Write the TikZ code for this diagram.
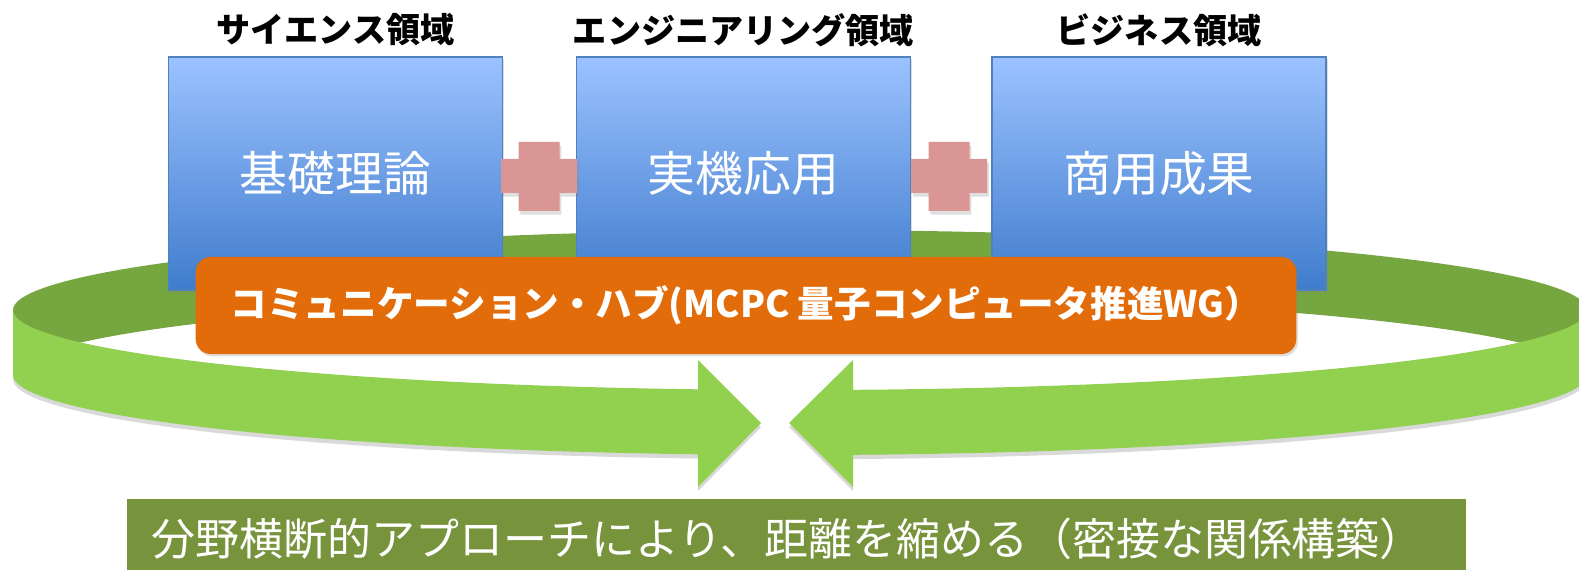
\documentclass[tikz,border=0pt]{standalone}
\usepackage{fontspec}
\setmainfont{Noto Sans CJK JP}
\usepackage{tikz}
\usetikzlibrary{shadows}
\definecolor{backring}{RGB}{118, 166, 64}
\definecolor{frontring}{RGB}{146, 208, 80}
\definecolor{hub}{RGB}{227, 108, 10}
\definecolor{cross}{RGB}{217, 150, 148}
\definecolor{band}{RGB}{119, 147, 60}
\definecolor{boxtop}{RGB}{155, 194, 255}
\definecolor{boxbot}{RGB}{64, 124, 205}
\definecolor{boxline}{RGB}{79, 129, 189}

\begin{document}
\begin{tikzpicture}[x=0.01cm, y=-0.01cm,
  field/.style={draw=boxline, top color=boxtop, bottom color=boxbot,
    minimum width=3.34cm, minimum height=2.33cm, text=white,
    font=\fontsize{13.6}{15}\selectfont,
    drop shadow={opacity=0.25, shadow xshift=0.5pt, shadow yshift=-0.7pt}},
  fieldname/.style={font=\fontsize{9.7}{11}\selectfont\bfseries},
  hubbox/.style={fill=hub, rounded corners=0.15cm, minimum width=11cm,
    minimum height=0.97cm, text=white, font=\fontsize{10.4}{12}\selectfont\bfseries,
    drop shadow={opacity=0.25, shadow xshift=0.5pt, shadow yshift=-0.7pt}},
  goal/.style={fill=band, anchor=north west, minimum width=13.38cm,
    minimum height=0.8cm, inner xsep=0.25cm, text width=12.88cm, align=left,
    text=white, font=\fontsize{12.5}{14}\selectfont},
  ring/.style={drop shadow={opacity=0.3, shadow xshift=0pt, shadow yshift=-1.2pt}}]

  \useasboundingbox (0, 0) rectangle (1579, 570);
  \clip (0, 0) rectangle (1579, 570);

  % Ring
  \pgfmathsetmacro{\rcx}{800}
  \pgfmathsetmacro{\rcy}{310}
  \pgfmathsetmacro{\rx}{787}
  \pgfmathsetmacro{\ry}{80}
  \pgfmathsetmacro{\rh}{65}

  \fill [backring] plot [domain=180:360, samples=90] ({\rcx + \rx*cos(\x)}, {\rcy + \ry*sin(\x)})
    -- plot [domain=360:180, samples=90] ({\rcx + \rx*cos(\x)}, {\rcy + \rh + \ry*sin(\x)}) -- cycle;

  % Fields
  \node [field] (sci) at (335.5, 173.5) {基礎理論};
  \node [field] (eng) at (743.5, 173.5) {実機応用};
  \node [field] (biz) at (1159, 173.5) {商用成果};

  \node [fieldname] (scilabel) at (335.5, 30) {サイエンス領域};
  \node [fieldname] (englabel) at (743.5, 30) {エンジニアリング領域};
  \node [fieldname] (bizlabel) at (1159, 30) {ビジネス領域};

  % Plus signs
  \foreach \px in {539, 949} {
    \fill [cross, drop shadow={opacity=0.25, shadow xshift=0.5pt, shadow yshift=-1pt}]
      (\px - 20.5, 142) -- (\px + 20.5, 142) -- (\px + 20.5, 159) -- (\px + 38, 159)
      -- (\px + 38, 193) -- (\px + 20.5, 193) -- (\px + 20.5, 211) -- (\px - 20.5, 211)
      -- (\px - 20.5, 193) -- (\px - 38, 193) -- (\px - 38, 159) -- (\px - 20.5, 159) -- cycle;
  }

  % Hub
  \node [hubbox] (hub) at (746, 305.5) {コミュニケーション・ハブ(MCPC 量子コンピュータ推進WG）};

  % Front arrows
  \pgfmathsetmacro{\tl}{acos((698 - \rcx)/\rx)}
  \pgfmathsetmacro{\tr}{acos((853 - \rcx)/\rx)}

  \fill [frontring, ring] plot [domain=180:\tl, samples=60] ({\rcx + \rx*cos(\x)}, {\rcy + \ry*sin(\x)})
    -- (698, 360) -- (761, 423) -- (698, 487)
    -- plot [domain=\tl:180, samples=60] ({\rcx + \rx*cos(\x)}, {\rcy + \rh + \ry*sin(\x)}) -- cycle;

  \fill [frontring, ring] plot [domain=0:\tr, samples=60] ({\rcx + \rx*cos(\x)}, {\rcy + \ry*sin(\x)})
    -- (853, 360) -- (789, 423) -- (853, 487)
    -- plot [domain=\tr:0, samples=60] ({\rcx + \rx*cos(\x)}, {\rcy + \rh + \ry*sin(\x)}) -- cycle;

  % Goal
  \node [goal] (goal) at (126, 498) {分野横断的アプローチにより、距離を縮める（密接な関係構築）};

\end{tikzpicture}
\end{document}
